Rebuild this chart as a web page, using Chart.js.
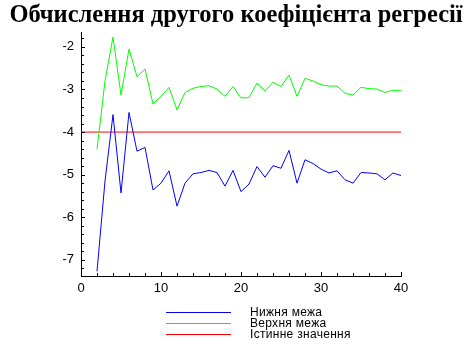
<!DOCTYPE html>
<html>
<head>
<meta charset="utf-8">
<script src="https://cdn.jsdelivr.net/npm/chart.js@4"></script>
<style>
  body { margin: 0; background: #fff; }
  #wrap { position: relative; width: 472px; height: 359px; }
  #legende { position: absolute; left: 0; top: 0; width: 472px; height: 359px; pointer-events: none; }
  .ligne { position: absolute; left: 166px; width: 65px; height: 1px; }
  .texte { position: absolute; left: 250px; font: 12px "Liberation Sans", Arial, sans-serif; letter-spacing: 0.3px; color: #000; line-height: 12px; white-space: nowrap; }
</style>
</head>
<body>
<div id="wrap">
  <canvas id="myLineChart" width="472" height="359"></canvas>
  <div id="legende"></div>
</div>
<script>
// donnees
const xValues = [2, 3, 4, 5, 6, 7, 8, 9, 10, 11, 12, 13, 14, 15, 16, 17, 18, 19, 20, 21,
                 22, 23, 24, 25, 26, 27, 28, 29, 30, 31, 32, 33, 34, 35, 36, 37, 38, 39, 40];
const lowerValues = [-7.27, -5.15, -3.59, -5.43, -3.54, -4.45, -4.36, -5.36, -5.20, -4.91,
                     -5.74, -5.20, -4.98, -4.95, -4.90, -4.95, -5.27, -4.90, -5.40, -5.22,
                     -4.81, -5.06, -4.79, -4.85, -4.43, -5.20, -4.65, -4.74, -4.87, -4.96,
                     -4.91, -5.12, -5.20, -4.95, -4.96, -4.98, -5.12, -4.96, -5.02];
const upperValues = [-4.41, -2.80, -1.77, -3.13, -2.05, -2.70, -2.52, -3.34, -3.16, -2.95,
                     -3.48, -3.07, -2.97, -2.93, -2.91, -2.99, -3.16, -2.93, -3.20, -3.19,
                     -2.85, -3.04, -2.83, -2.93, -2.66, -3.16, -2.74, -2.80, -2.89, -2.92,
                     -2.92, -3.09, -3.13, -2.95, -2.98, -2.99, -3.07, -3.02, -3.02];
const trueX = [0, 40];
const trueValue = -4;

const xMajorTicks = [0, 10, 20, 30, 40];
const yMajorTicks = [-7, -6, -5, -4, -3, -2];

const labels = ["Нижня межа", "Верхня межа", "Істинне значення"];
const titre = "Обчислення другого коефіцієнта регресії";

// petits traits de graduation vers l'interieur (style Maple)
const innerTicks = {
  id: 'innerTicks',
  afterDraw(chart) {
    const ctx = chart.ctx;
    const xs = chart.scales.x;
    const ys = chart.scales.y;
    ctx.save();
    ctx.strokeStyle = '#000';
    ctx.lineWidth = 1;
    ctx.beginPath();
    xs.ticks.forEach((t) => {
      const px = Math.round(xs.getPixelForValue(t.value)) + 0.5;
      const len = xMajorTicks.includes(t.value) ? 4 : 3;
      ctx.moveTo(px, xs.top);
      ctx.lineTo(px, xs.top - len);
    });
    ys.ticks.forEach((t) => {
      const py = Math.round(ys.getPixelForValue(t.value)) + 0.5;
      const major = Math.abs(t.value - Math.round(t.value)) < 1e-6;
      ctx.moveTo(ys.right, py);
      ctx.lineTo(ys.right + (major ? 4 : 3), py);
    });
    ctx.stroke();
    ctx.restore();
  }
};

const data = {
  datasets: [{
    label: labels[0],
    data: xValues.map((x, i) => ({ x: x, y: lowerValues[i] })),
    borderColor: '#0000ff',
    backgroundColor: '#0000ff',
    borderWidth: 1,
    pointRadius: 0,
    tension: 0
  }, {
    label: labels[1],
    data: xValues.map((x, i) => ({ x: x, y: upperValues[i] })),
    borderColor: '#00ff00',
    backgroundColor: '#00ff00',
    borderWidth: 1,
    pointRadius: 0,
    tension: 0
  }, {
    label: labels[2],
    data: trueX.map((x) => ({ x: x, y: trueValue })),
    borderColor: '#ff0000',
    backgroundColor: '#ff0000',
    borderWidth: 1,
    pointRadius: 0,
    tension: 0
  }]
};

const axisFont = { family: 'Liberation Sans', size: 13 };

const config = {
  type: 'line',
  data: data,
  options: {
    responsive: false,
    animation: false,
    layout: { padding: { left: 0, right: 0, top: 0, bottom: 63 } },
    plugins: {
      legend: { display: false },
      tooltip: { enabled: false },
      title: {
        display: true,
        text: titre,
        color: '#000',
        font: { family: 'Liberation Serif', size: 24.5, weight: 'bold' },
        padding: { top: 1, bottom: 1.6 }
      }
    },
    scales: {
      x: {
        type: 'linear',
        min: 0,
        max: 40,
        grid: { display: true, drawOnChartArea: false, drawTicks: false },
        border: { display: true, color: '#000', width: 1 },
        afterBuildTicks: (scale) => {
          const t = [];
          for (let v = 0; v <= 40; v += 2) t.push({ value: v });
          scale.ticks = t;
        },
        afterFit: (scale) => { scale.height = 20; },
        ticks: {
          autoSkip: false,
          maxRotation: 0,
          padding: 5,
          color: '#000',
          font: axisFont,
          callback: (v) => xMajorTicks.includes(v) ? String(v) : ''
        }
      },
      y: {
        min: -7.38,
        max: -1.65,
        grid: { display: true, drawOnChartArea: false, drawTicks: false },
        border: { display: true, color: '#000', width: 1 },
        afterBuildTicks: (scale) => {
          const t = [];
          for (let i = -36; i <= -9; i++) t.push({ value: Math.round(i * 0.2 * 10) / 10 });
          scale.ticks = t;
        },
        afterFit: (scale) => { scale.width = 81; },
        ticks: {
          autoSkip: false,
          padding: 7,
          color: '#000',
          font: axisFont,
          callback: (v) => yMajorTicks.includes(v) ? String(v) : ''
        }
      },
      // axe vide a droite, juste pour reserver la place (le titre reste centre sur la page)
      vide: {
        type: 'linear',
        position: 'right',
        min: 0,
        max: 1,
        grid: { display: false },
        border: { display: false },
        ticks: { display: false },
        afterFit: (scale) => { scale.width = 71; }
      }
    }
  },
  plugins: [innerTicks]
};

const ctx = document.getElementById('myLineChart').getContext('2d');
const myLineChart = new Chart(ctx, config);

// legende en HTML, construite a partir des jeux de donnees
const legende = document.getElementById('legende');
myLineChart.data.datasets.forEach((ds, i) => {
  const y = 312 + i * 11;
  const trait = document.createElement('div');
  trait.className = 'ligne';
  trait.style.top = y + 'px';
  trait.style.background = ds.borderColor;
  legende.appendChild(trait);
  const txt = document.createElement('div');
  txt.className = 'texte';
  txt.style.top = (y - 6) + 'px';
  txt.textContent = ds.label;
  legende.appendChild(txt);
});
</script>
</body>
</html>
